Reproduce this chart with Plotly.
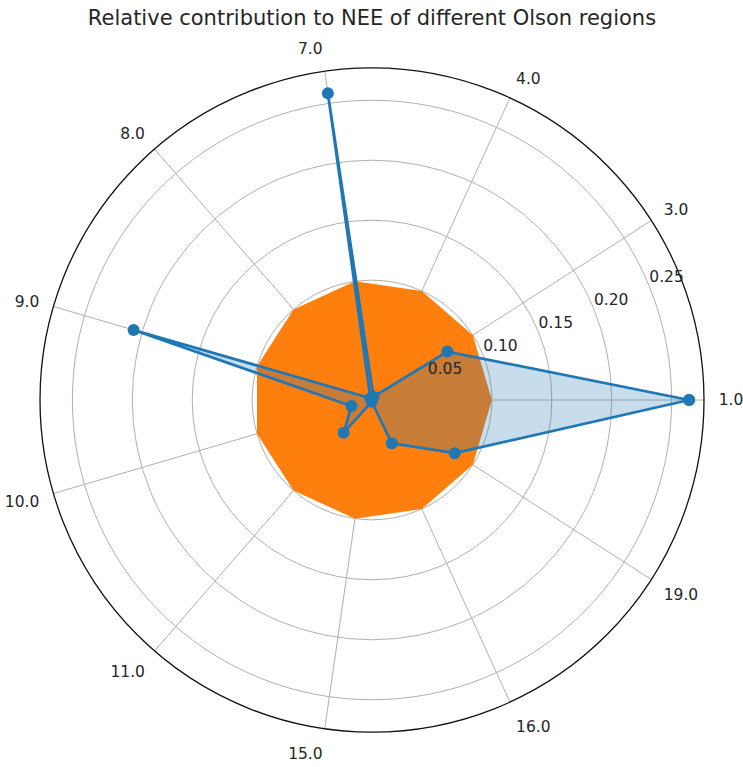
import plotly.graph_objects as go

# Olson region codes (angular categories)
regions = ["1.0", "3.0", "4.0", "7.0", "8.0", "9.0", "10.0", "11.0", "15.0", "16.0", "19.0"]

# Relative contribution of each region to NEE
nee_share = [0.2646, 0.0747, 0.003, 0.2586, 0.002, 0.2073, 0.0179, 0.0361, 0.0015, 0.0397, 0.082]

# Reference share drawn as the filled orange polygon
reference_share = [0.1] * 11

# Radial grid
radial_ticks = [0.05, 0.10, 0.15, 0.20, 0.25]
radial_max = 0.277
radial_label_angle = 22.5      # degrees, direction of the radial tick labels
radial_label_shift = 0.016     # labels sit just outside their circle

BLUE = "#1f77b4"
ORANGE = "#ff7f0e"
GRID = "#b0b0b0"
TEXT = "#262626"
FONT = "DejaVu Sans"


def closed(seq):
    return list(seq) + [seq[0]]


theta_closed = closed(regions)

fig = go.Figure()

# Filled areas on the lower polar subplot (grid drawn over them)
fig.add_trace(go.Scatterpolar(
    r=closed(reference_share), theta=theta_closed, mode="none",
    fill="toself", fillcolor=ORANGE, subplot="polar", showlegend=False,
    hoverinfo="skip",
))
fig.add_trace(go.Scatterpolar(
    r=closed(nee_share), theta=theta_closed, mode="none",
    fill="toself", fillcolor="rgba(31,119,180,0.25)", subplot="polar",
    showlegend=False, hoverinfo="skip",
))

# Line with markers on the upper polar subplot (drawn over the grid)
fig.add_trace(go.Scatterpolar(
    r=closed(nee_share), theta=theta_closed, mode="lines+markers",
    line=dict(color=BLUE, width=2.7),
    marker=dict(color=BLUE, size=12),
    subplot="polar2", showlegend=False,
))

# Horizontal radial tick labels along the 22.5 degree direction
fig.add_trace(go.Scatterpolar(
    r=[v + radial_label_shift for v in radial_ticks],
    theta=[radial_label_angle] * len(radial_ticks),
    mode="text", text=[f"{v:.2f}" for v in radial_ticks],
    textposition="middle center",
    textfont=dict(family=FONT, size=15.5, color=TEXT),
    subplot="polar3", showlegend=False, hoverinfo="skip",
))

angular_common = dict(
    type="category", categoryorder="array", categoryarray=regions,
    rotation=0, direction="counterclockwise",
)
radial_common = dict(range=[0, radial_max])
transparent = "rgba(0,0,0,0)"

fig.update_layout(
    width=743, height=767,
    margin=dict(l=40, r=39, t=68, b=35),
    paper_bgcolor="white",
    font=dict(family=FONT, color=TEXT, size=15.5),
    title=dict(
        text="Relative contribution to NEE of different Olson regions",
        font=dict(family=FONT, size=21, color=TEXT),
        x=0.5, xanchor="center", xref="paper",
        y=1 - 18 / 767, yanchor="middle", yref="container",
    ),
    polar=dict(
        domain=dict(x=[0, 1], y=[0, 1]),
        bgcolor="white",
        angularaxis=dict(
            **angular_common,
            showline=True, linecolor="#111111", linewidth=1.3,
            showgrid=True, gridcolor=GRID, gridwidth=1,
            ticks="outside", ticklen=11, tickcolor=transparent,
            tickfont=dict(size=15.5, color=TEXT),
            layer="above traces",
        ),
        radialaxis=dict(
            **radial_common,
            tickvals=radial_ticks,
            showline=False, ticks="", showticklabels=False,
            showgrid=True, gridcolor=GRID, gridwidth=1,
            layer="above traces",
        ),
    ),
    polar2=dict(
        domain=dict(x=[0, 1], y=[0, 1]),
        bgcolor=transparent,
        angularaxis=dict(**angular_common, visible=False, showgrid=False),
        radialaxis=dict(**radial_common, visible=False, showgrid=False),
    ),
    polar3=dict(
        domain=dict(x=[0, 1], y=[0, 1]),
        bgcolor=transparent,
        angularaxis=dict(type="linear", thetaunit="degrees", rotation=0,
                         direction="counterclockwise", visible=False,
                         showgrid=False),
        radialaxis=dict(**radial_common, visible=False, showgrid=False),
    ),
)

fig.write_html("out.html")
